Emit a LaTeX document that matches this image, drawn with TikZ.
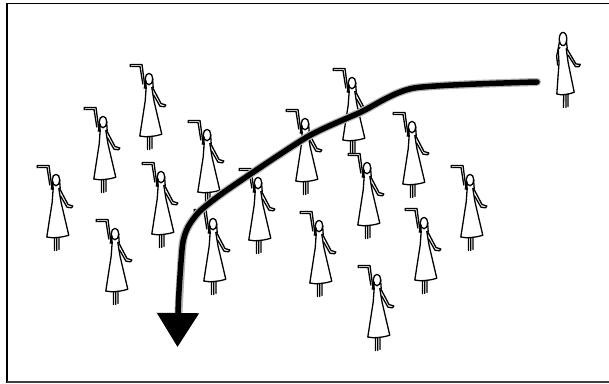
\documentclass[tikz,border=0pt]{standalone}
\usetikzlibrary{arrows.meta}
\begin{document}
\begin{tikzpicture}[x=1pt,y=-1pt,
  pen/.style={line width=1.3pt, line cap=round, line join=round},
  frameline/.style={line width=1.6pt},
  % a woman in a long dress with one arm raised
  dancer/.pic={
    \draw[pen] (0,0) ellipse[x radius=3.8pt, y radius=5.7pt];
    \fill (-3.7,-1) -- (-5.4,9.5) -- (-2.4,10) -- (-2.2,3) -- cycle;
    \draw[pen] (3.6,0) -- (4.2,8.5);
    \draw[pen] (-18.8,-12.2) -- (-18.8,-14.6) -- (-7,-14.6) -- (-4.2,7);
    \draw[pen] (-17.4,-12.6) -- (-9,-12.6) -- (-6.2,5);
    \draw[pen] (-2.8,8) -- (-3.8,22) -- (-9.2,57)
      .. controls (-2,58.8) and (6,57.2) .. (12.8,55.3) -- (5,22) -- (2.8,8.5);
    \draw[pen] (3.6,8.5) -- (12,24.5) -- (16.8,26) -- (15.6,27.8) -- (11,27.2) -- (4.6,16);
    \draw[pen] (-1.4,57.5) -- (-1.6,70.5) (0.8,57.5) -- (0.8,70.5) (3,57) -- (3,69.5);
  },
  % a woman in a long dress with both arms lowered
  resting/.pic={
    \draw[pen] (0,0) ellipse[x radius=3.8pt, y radius=6.6pt];
    \draw[pen] (-3.4,2) -- (-4.8,9.5) (3.4,2) -- (4.2,9);
    \draw[pen] (-3,8.5) -- (-4.8,10) -- (-4,24) -- (-6.2,55)
      .. controls (-1,56.8) and (6,55.2) .. (11.2,53.3) -- (5.2,24) -- (3.2,9.5);
    \draw[pen] (-4.8,10) -- (-6.4,17) -- (-5.4,26);
    \draw[pen] (3.8,9.5) -- (13,25) -- (17.2,25.3) -- (16.2,27.6) -- (12.4,27.6) -- (5,16);
    \draw[pen] (0.8,55.5) -- (0.4,68.5) (3,55.5) -- (3,68.5) (5.1,55) -- (4.9,67.5);
  }]
\useasboundingbox (0,0) rectangle (609,383);
\fill[white] (0,0) rectangle (609,383);

% open frame: left, top and bottom edges
\draw[frameline, black] (7,383) -- (7,3.5) -- (609,3.5);
\draw[frameline, black!75] (7,382) -- (609,382);

% the crowd
\pic at (149,79)  {dancer};
\pic at (103,122) {dancer};
\pic at (56,180)  {dancer};
\pic at (161,177) {dancer};
\pic at (207,135) {dancer};
\pic at (258,183) {dancer};
\pic at (305,124) {dancer};
\pic at (352,83)  {dancer};
\pic at (412,127) {dancer};
\pic at (367,168) {dancer};
\pic at (470,180) {dancer};
\pic at (115,234) {dancer};
\pic at (213,224) {dancer};
\pic at (319,226) {dancer};
\pic at (424,223) {dancer};
\pic at (377,280) {dancer};
\pic at (563,39)  {resting};

% the path through the crowd, with a soft edge under it
\coordinate (start) at (537,82);
\coordinate (goal) at (177.5,347);
\draw[line width=8pt, black!30, line cap=round]
  plot[smooth, tension=0.4] coordinates {(start) (414,88) (360,112.5) (307,137) (227,190)
    (200,211) (188,227) (182.5,245) (178.5,312)};
\draw[line width=5.5pt, line cap=round, -{Triangle[width=41pt,length=34pt]}]
  plot[smooth, tension=0.4] coordinates {(start) (414,88) (360,112.5) (307,137) (227,190)
    (200,211) (188,227) (182.5,245) (178.5,300) (goal)};
\end{tikzpicture}
\end{document}
